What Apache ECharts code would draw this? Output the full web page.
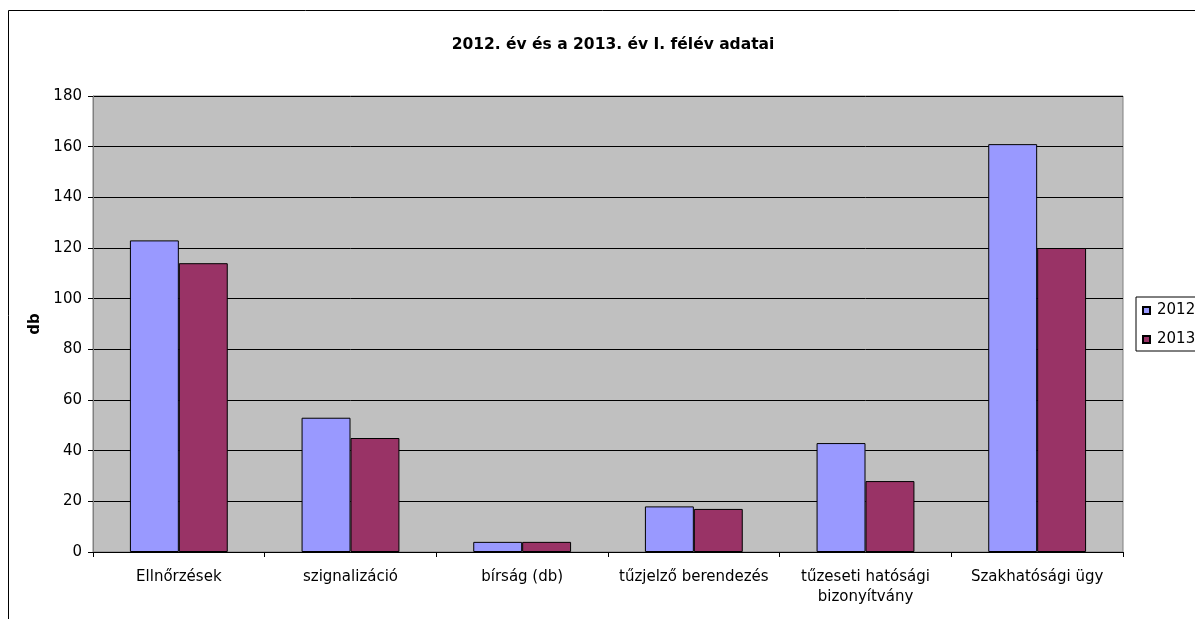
<!DOCTYPE html>
<html><head><meta charset="utf-8">
<script src="https://cdn.jsdelivr.net/npm/echarts@6/dist/echarts.min.js"></script>
<style>html,body{margin:0;padding:0;background:#fff}#c{width:1195px;height:619px}</style>
</head><body><div id="c"></div>
<script>
const categories = ['Ellnőrzések', 'szignalizáció', 'bírság (db)', 'tűzjelző berendezés', 'tűzeseti hatósági\nbizonyítvány', 'Szakhatósági ügy'];
const series2012 = [123, 53, 4, 18, 43, 161];
const series2013 = [114, 45, 4, 17, 28, 120];
const seriesNames = ['2012', '2013'];
const titleText = '2012. év és a 2013. év I. félév adatai';
const yAxisName = 'db';

const F = '"DejaVu Sans", "Liberation Sans", Arial, sans-serif';
const chart = echarts.init(document.getElementById('c'));
chart.setOption({
  animation: false,
  textStyle: { fontFamily: F },
  graphic: [{ type: 'rect', shape: { x: 8.5, y: 10.5, width: 1400, height: 800 }, style: { fill: 'none', stroke: '#000', lineWidth: 1 }, silent: true }],
  title: { text: titleText, left: 608, top: 32, textAlign: 'center', textStyle: { fontFamily: F, fontSize: 15.5, fontWeight: 'bold', color: '#000' } },
  legend: {
    orient: 'vertical', left: 1136, top: 297, padding: [6, 8, 4, 6],
    borderColor: '#000', borderWidth: 1, backgroundColor: '#fff',
    icon: 'rect', itemWidth: 7, itemHeight: 7, itemGap: 14,
    textStyle: { fontFamily: F, fontSize: 15, lineHeight: 14, color: '#000', padding: [0, 0, 0, 2] },
    data: seriesNames
  },
  grid: { left: 93, right: 72, top: 96, bottom: 67, show: true, backgroundColor: '#C0C0C0', borderColor: '#808080', borderWidth: 1 },
  xAxis: {
    type: 'category', data: categories,
    axisLine: { lineStyle: { color: '#000' } },
    axisTick: { show: true, length: 5, lineStyle: { color: '#000' } },
    axisLabel: { fontFamily: F, fontSize: 15, color: '#000', margin: 15, lineHeight: 20, interval: 0 }
  },
  yAxis: {
    type: 'value', min: 0, max: 180, interval: 20,
    name: yAxisName, nameLocation: 'middle', nameGap: 44, nameRotate: 90,
    nameTextStyle: { fontFamily: F, fontSize: 15, fontWeight: 'bold', color: '#000' },
    axisLine: { show: true, lineStyle: { color: '#808080' } },
    axisTick: { show: true, length: 5, lineStyle: { color: '#000' } },
    axisLabel: { fontFamily: F, fontSize: 15, color: '#000', margin: 11 },
    splitLine: { lineStyle: { color: '#000', width: 1 } }
  },
  series: [
    { name: seriesNames[0], type: 'bar', data: series2012, barGap: '0%', barCategoryGap: '43%', itemStyle: { color: '#9999FF', borderColor: '#000', borderWidth: 1 } },
    { name: seriesNames[1], type: 'bar', data: series2013, itemStyle: { color: '#993366', borderColor: '#000', borderWidth: 1 } }
  ]
});
</script></body></html>
